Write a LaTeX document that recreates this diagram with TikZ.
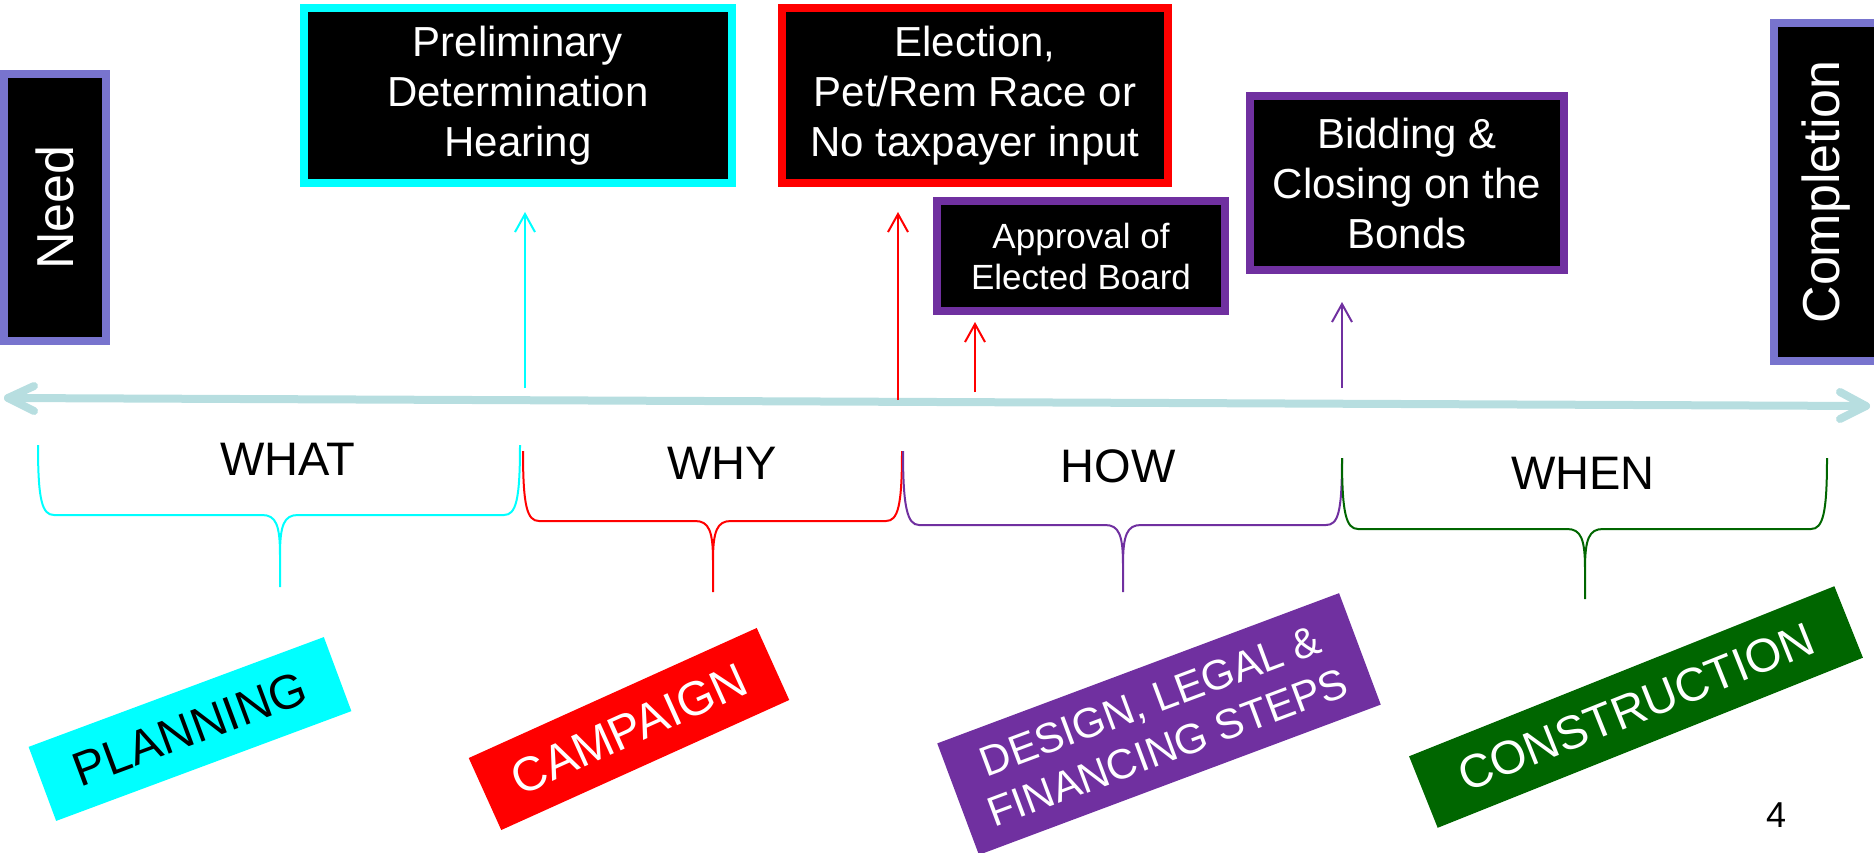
\documentclass[tikz,border=0pt]{standalone}
\usepackage{fontspec}
\setmainfont{Liberation Sans}
\usetikzlibrary{arrows.meta}
\definecolor{needc}{RGB}{120,116,206}
\definecolor{pur}{RGB}{112,48,160}
\definecolor{grn}{RGB}{0,102,0}
\definecolor{axc}{RGB}{183,222,224}
\definecolor{cyn}{RGB}{0,255,255}
\definecolor{rd}{RGB}{255,0,0}
% color, xL, xR, yTL, yTR, yH, xM, yTip
\newcommand{\mybrace}[8]{%
 \draw[bracestyle,#1] (#2,#4) .. controls +(0,55) and +(-12,0) .. ({#2+16},#6) -- ({#7-18},#6) .. controls +(14,0) and +(0,-30) .. (#7,{#6+40}) -- (#7,#8)
  (#7,{#6+40}) .. controls +(0,-30) and +(-14,0) .. ({#7+18},#6) -- ({#3-16},#6) .. controls +(12,0) and +(0,55) .. (#3,#5);}
\begin{document}
\begin{tikzpicture}[x=1pt,y=-1pt,
  tbox/.style={draw, fill=black, line width=8pt, inner sep=0pt, text=white, align=center, font=\fontsize{42}{50}\selectfont},
  sidebox/.style={tbox, draw=needc, rotate=90, font=\fontsize{52}{60}\selectfont},
  lbl/.style={inner sep=0pt, align=center},
  head/.style={inner sep=0pt, font=\fontsize{47}{56}\selectfont},
  arr/.style={line width=2pt, -{Straight Barb[length=18pt,width=20pt]}},
  axis/.style={draw=axc, line width=8pt, line cap=round, line join=round},
  bracestyle/.style={line width=2pt}]
\useasboundingbox (0,0) rectangle (1874,853);
\clip (0,0) rectangle (1874,853);

% side boxes
\node[sidebox, minimum width=267pt, minimum height=102pt] (need) at (55,207.5) {Need};
\node[sidebox, minimum width=338pt, minimum height=104pt] (completion) at (1826,192) {Completion};

% event boxes
\node[tbox, draw=cyn, minimum width=428pt, minimum height=175pt] (prelim) at (518,95.5) {Preliminary\\Determination\\Hearing};
\node[tbox, draw=rd, minimum width=386pt, minimum height=175pt] (election) at (975,95.5) {Election,\\Pet/Rem Race or\\No taxpayer input};
\node[tbox, draw=pur, minimum width=288pt, minimum height=110pt, font=\fontsize{35}{41}\selectfont] (approval) at (1081,256) {Approval of\\Elected Board};
\node[tbox, draw=pur, minimum width=314pt, minimum height=174pt] (bidding) at (1407,183) {Bidding \&\\Closing on the\\Bonds};

% axis
\coordinate (axL) at (8,398);
\coordinate (axR) at (1866,406);
\draw[axis] (axL) -- (axR);
\draw[axis] (34,386) -- (axL) -- (34,411);
\draw[axis] (1840,392) -- (axR) -- (1840,419);

% arrows
\coordinate (a1s) at (525,388); \coordinate (a1e) at (525,212);
\coordinate (a2s) at (898,400); \coordinate (a2e) at (898,212);
\coordinate (a3s) at (975,392); \coordinate (a3e) at (975,322);
\coordinate (a4s) at (1342,388); \coordinate (a4e) at (1342,302);
\draw[arr, cyn] (a1s) -- (a1e);
\draw[arr, rd] (a2s) -- (a2e);
\draw[arr, rd] (a3s) -- (a3e);
\draw[arr, pur] (a4s) -- (a4e);

% braces
\mybrace{cyn}{38}{520}{445}{445}{515}{280}{587}
\mybrace{rd}{523}{902}{451}{451}{521}{713}{592}
\mybrace{pur}{903}{1342}{451}{458}{525}{1123}{592}
\mybrace{grn}{1342}{1827}{458}{458}{529}{1585}{599}

% headings
\node[head] (what) at (288,459) {WHAT};
\node[head] (why) at (722,463) {WHY};
\node[head] (how) at (1118,466) {HOW};
\node[head] (when) at (1583,473) {WHEN};

% rotated labels
\node[lbl, fill=cyn, text=black, rotate=20.4, minimum width=315pt, minimum height=79pt, font=\fontsize{48}{56}\selectfont] (planning) at (190,729) {PLANNING};
\node[lbl, fill=rd, text=white, rotate=24.3, minimum width=316pt, minimum height=79pt, font=\fontsize{48}{56}\selectfont] (campaign) at (629,729) {CAMPAIGN};
\node[lbl, fill=pur, text=white, rotate=20.5, minimum width=429pt, minimum height=119pt, font=\fontsize{42}{50}\selectfont] (design) at (1159,724) {DESIGN, LEGAL \&\\FINANCING STEPS};
\node[lbl, fill=grn, text=white, rotate=21.8, minimum width=458pt, minimum height=77pt, font=\fontsize{47}{56}\selectfont] (construction) at (1636,707) {CONSTRUCTION};

\node[inner sep=0pt, font=\fontsize{36}{42}\selectfont] (pagenum) at (1776,815) {4};
\end{tikzpicture}
\end{document}
